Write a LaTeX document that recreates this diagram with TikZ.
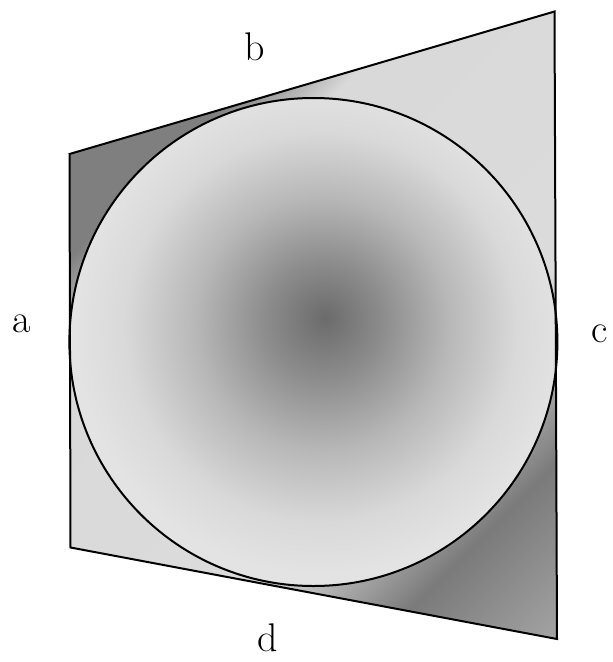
\documentclass[tikz,border=0pt]{standalone}
\pgfdeclarehorizontalshading{quadshade}{100bp}{color(0bp)=(black!52); color(36.4bp)=(black!50); color(40bp)=(black!15); color(54bp)=(black!14); color(56bp)=(black!22); color(61bp)=(black!52); color(67.2bp)=(black!36); color(100bp)=(black!36)}
\pgfdeclareradialshading{discshade}{\pgfpoint{1.2bp}{2.5bp}}{color(0bp)=(black!58); color(6bp)=(black!45); color(13bp)=(black!28); color(20bp)=(black!15); color(25bp)=(black!11); color(50bp)=(black!11)}
\tikzset{
  edge/.style={line width=2pt, black, line join=miter},
  lbl/.style={font=\fontsize{40}{46}\selectfont, inner sep=0pt}
}
\begin{document}
\begin{tikzpicture}[x=1pt,y=-1pt]
\useasboundingbox (0,0) rectangle (613,662);
\coordinate (A) at (69.5,154);
\coordinate (B) at (554.5,11.5);
\coordinate (C) at (557,639);
\coordinate (D) at (70.5,547.5);
\coordinate (O) at (313.4,342);
\begin{scope}
  \clip (A) -- (B) -- (C) -- (D) -- cycle;
  \shade[shading=quadshade, shading angle=-45] (-187,-103) rectangle (813,897);
\end{scope}
\shade[shading=discshade] (O) circle[radius=244];
\draw[edge] (A) -- (B) -- (C) -- (D) -- cycle;
\draw[edge] (O) circle[radius=244];
\node[lbl] (la) at (22,324) {a};
\node[lbl] (lb) at (255,47) {b};
\node[lbl] (lc) at (600,334) {c};
\node[lbl] (ld) at (267.5,638) {d};
\end{tikzpicture}
\end{document}
